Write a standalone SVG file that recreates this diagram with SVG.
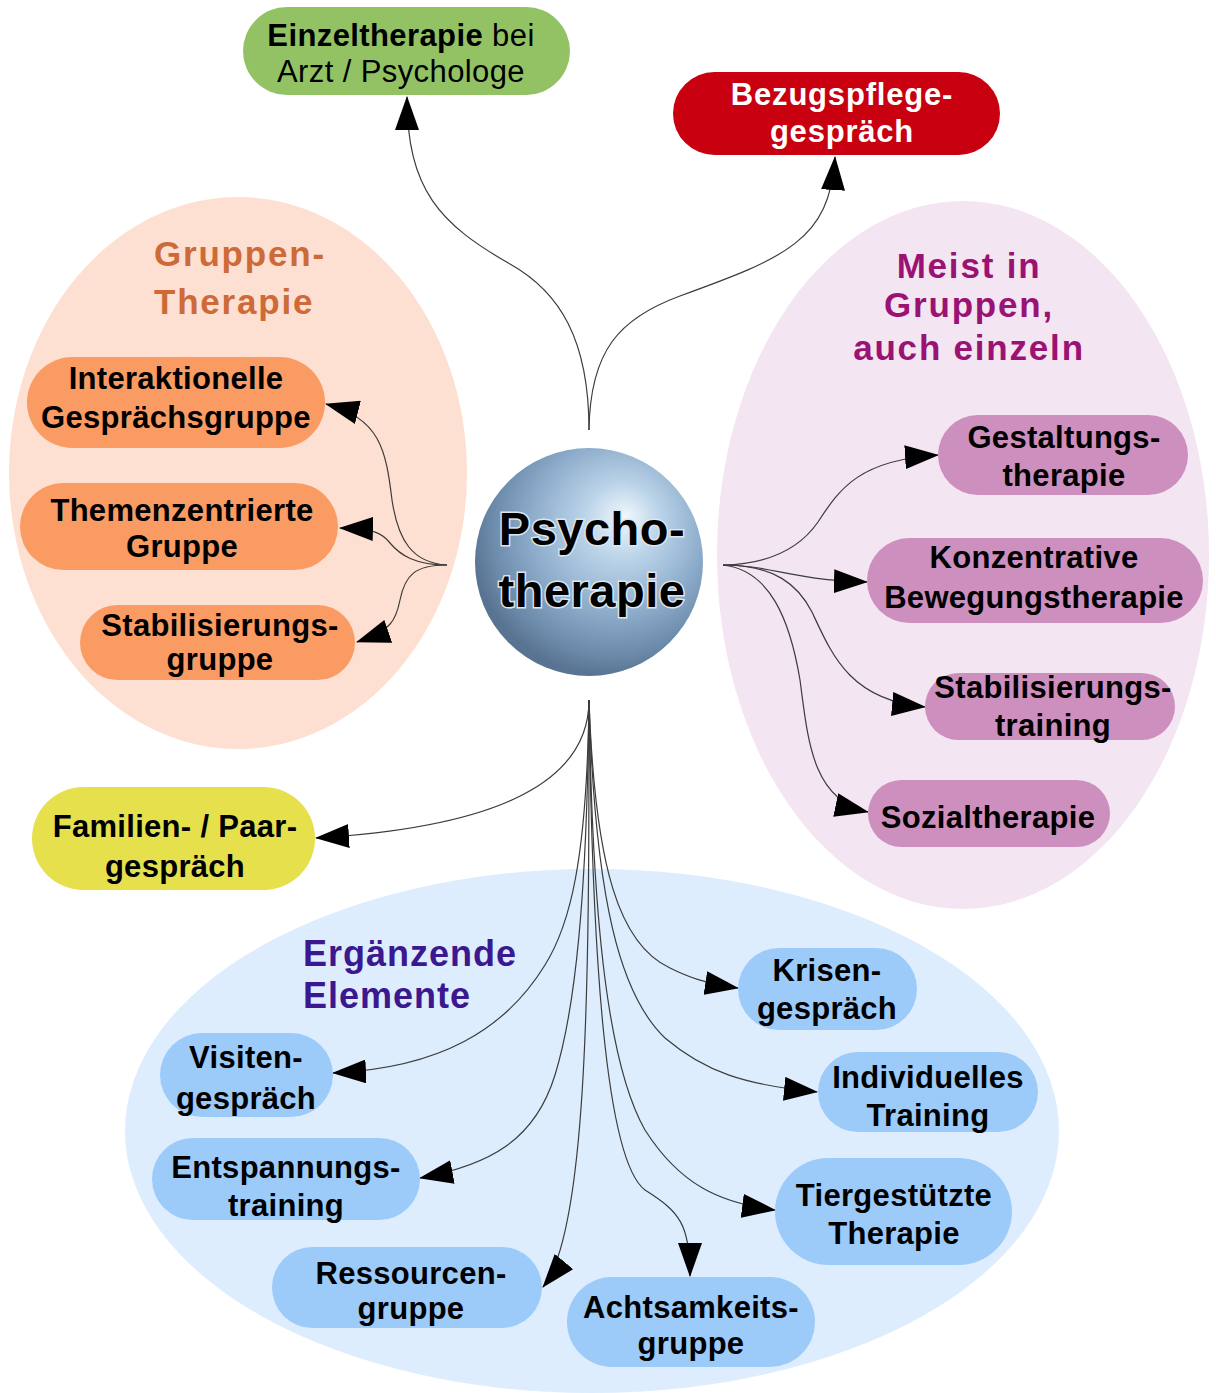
<svg xmlns="http://www.w3.org/2000/svg" width="1216" height="1393" viewBox="0 0 1216 1393">
<defs>
<style>
.bg{stroke:none}
.conn{fill:none;stroke:#3c3c3c;stroke-width:1.2;marker-end:url(#arr)}
.pill{stroke:none}
.t{font-family:"Liberation Sans",Arial,sans-serif;font-weight:bold;font-size:31px;letter-spacing:0.3px;text-anchor:middle;fill:#000}
.title{font-family:"Liberation Sans",Arial,sans-serif;font-weight:bold;font-size:35px;letter-spacing:1.8px}
.orange{fill:#fa9b63}
.purple{fill:#cd8fbe}
.blue{fill:#9ccbfa}
</style>
<marker id="arr" markerUnits="userSpaceOnUse" markerWidth="34" markerHeight="24" viewBox="0 0 34 24" refX="33" refY="12" orient="auto">
<path d="M0,0 L34,12 L0,24 Z" fill="#000"/>
</marker>
<radialGradient id="sph" cx="0.6" cy="0.38" r="0.62" fx="0.66" fy="0.3">
<stop offset="0" stop-color="#f0f8fc"/>
<stop offset="0.28" stop-color="#b9d2e8"/>
<stop offset="0.62" stop-color="#8cabca"/>
<stop offset="0.88" stop-color="#6a88a7"/>
<stop offset="1" stop-color="#587492"/>
</radialGradient>
</defs>
<rect width="1216" height="1393" fill="#fff"/>
<g id="groups">
<ellipse id="bg-gruppen" class="bg" cx="238" cy="473" rx="229" ry="276" fill="#fde0d1"/>
<ellipse id="bg-meist" class="bg" cx="963" cy="555" rx="246" ry="354" fill="#f3e5f1"/>
<ellipse id="bg-ergaenzend" class="bg" cx="592" cy="1131" rx="467" ry="262" fill="#ddedfd"/>
<text class="title" x="154" y="266" fill="#cd6a38">Gruppen-</text>
<text class="title" x="154" y="314" fill="#cd6a38">Therapie</text>
<text class="title" x="969" y="278" fill="#9a1274" text-anchor="middle">Meist in</text>
<text class="title" x="969" y="317" fill="#9a1274" text-anchor="middle">Gruppen,</text>
<text class="title" x="969" y="360" fill="#9a1274" text-anchor="middle">auch einzeln</text>
<text class="title" x="303" y="966" fill="#3b1890" style="font-size:36px;letter-spacing:1px">Ergänzende</text>
<text class="title" x="303" y="1008" fill="#3b1890" style="font-size:36px;letter-spacing:1px">Elemente</text>
</g>
<g id="connectors">
<path class="conn" d="M589,430 C589,340 560,292 510,264 C440,224 407,190 407,97"/>
<path class="conn" d="M589,430 C590,350 620,318 680,296 C785,258 830,240 835,157"/>
<path class="conn" d="M447,565 C412,563 398,540 392,500 C386,450 380,418 326,404"/>
<path class="conn" d="M447,565 C415,565 400,555 390,543 C382,533 375,529 340,528"/>
<path class="conn" d="M447,565 C415,565 405,575 400,600 C396,620 392,630 357,642"/>
<path class="conn" d="M723,565 C770,564 800,548 818,522 C840,488 860,460 938,455"/>
<path class="conn" d="M723,565 C770,565 790,580 867,582"/>
<path class="conn" d="M723,565 C775,565 798,585 812,612 C832,655 850,700 925,707"/>
<path class="conn" d="M723,565 C770,570 790,620 800,680 C808,740 812,800 868,812"/>
<path class="conn" d="M589,700 C589,790 480,828 316,838"/>
<path class="conn" d="M589,700 C587,860 570,925 545,965 C505,1030 440,1068 333,1073"/>
<path class="conn" d="M589,700 C587,900 575,1010 555,1075 C535,1140 490,1165 420,1178"/>
<path class="conn" d="M589,700 C589,950 590,1230 543,1287"/>
<path class="conn" d="M589,700 C592,950 605,1160 645,1190 C680,1212 690,1225 690,1276"/>
<path class="conn" d="M589,700 C592,900 605,1060 645,1130 C680,1185 720,1203 775,1210"/>
<path class="conn" d="M589,700 C595,900 620,995 665,1038 C705,1072 745,1085 817,1092"/>
<path class="conn" d="M589,700 C595,870 620,945 670,968 C690,978 705,983 738,988"/>
</g>
<g id="node-psychotherapie">
<circle cx="589" cy="562" r="114" fill="url(#sph)"/>
<text class="t" x="592" y="545" style="font-size:47px;letter-spacing:0.5px;stroke:#dbe6ef;stroke-width:3;paint-order:stroke" fill="#111">Psycho-</text>
<text class="t" x="592" y="607" style="font-size:47px;letter-spacing:0.5px;stroke:#dbe6ef;stroke-width:3;paint-order:stroke" fill="#111">therapie</text>
</g>
<g id="node-einzeltherapie">
<rect class="pill" x="243" y="7" width="327" height="88" rx="44" fill="#93c264"/>
<text class="t" x="401" y="46" style="letter-spacing:0.4px">Einzeltherapie<tspan font-weight="normal"> bei</tspan></text>
<text class="t" x="401" y="82" style="letter-spacing:0.4px;font-weight:normal">Arzt / Psychologe</text>
</g>
<g id="node-bezugspflege">
<rect class="pill" x="673" y="72" width="327" height="83" rx="41.5" fill="#c8000f"/>
<text class="t" x="842" y="105" style="fill:#fff;letter-spacing:0.8px">Bezugspflege-</text>
<text class="t" x="842" y="142" style="fill:#fff;letter-spacing:0.8px">gespräch</text>
</g>
<g id="node-interaktionelle">
<rect class="pill orange" x="27" y="357" width="298" height="91" rx="45.5"/>
<text class="t" x="176" y="389">Interaktionelle</text>
<text class="t" x="176" y="428">Gesprächsgruppe</text>
</g>
<g id="node-themenzentrierte">
<rect class="pill orange" x="20" y="483" width="318" height="87" rx="43.5"/>
<text class="t" x="182" y="521">Themenzentrierte</text>
<text class="t" x="182" y="557">Gruppe</text>
</g>
<g id="node-stabilisierungsgruppe">
<rect class="pill orange" x="80" y="605" width="275" height="75" rx="37.5"/>
<text class="t" x="220" y="636">Stabilisierungs-</text>
<text class="t" x="220" y="670">gruppe</text>
</g>
<g id="node-gestaltung">
<rect class="pill purple" x="938" y="415" width="250" height="80" rx="40"/>
<text class="t" x="1064" y="448">Gestaltungs-</text>
<text class="t" x="1064" y="486">therapie</text>
</g>
<g id="node-konzentrative">
<rect class="pill purple" x="867" y="538" width="336" height="85" rx="42.5"/>
<text class="t" x="1034" y="568">Konzentrative</text>
<text class="t" x="1034" y="608">Bewegungstherapie</text>
</g>
<g id="node-stabilisierungstraining">
<rect class="pill purple" x="925" y="673" width="250" height="67" rx="33.5"/>
<text class="t" x="1053" y="698">Stabilisierungs-</text>
<text class="t" x="1053" y="736">training</text>
</g>
<g id="node-sozial">
<rect class="pill purple" x="868" y="780" width="242" height="67" rx="33.5"/>
<text class="t" x="988" y="828">Sozialtherapie</text>
</g>
<g id="node-familien">
<rect class="pill" x="32" y="787" width="283" height="103" rx="51.5" fill="#e6e04d"/>
<text class="t" x="175" y="837">Familien- / Paar-</text>
<text class="t" x="175" y="877">gespräch</text>
</g>
<g id="node-visiten">
<rect class="pill blue" x="160" y="1033" width="173" height="84" rx="42"/>
<text class="t" x="246" y="1068">Visiten-</text>
<text class="t" x="246" y="1109">gespräch</text>
</g>
<g id="node-entspannung">
<rect class="pill blue" x="152" y="1138" width="268" height="82" rx="41"/>
<text class="t" x="286" y="1178">Entspannungs-</text>
<text class="t" x="286" y="1216">training</text>
</g>
<g id="node-ressourcen">
<rect class="pill blue" x="272" y="1247" width="270" height="81" rx="40.5"/>
<text class="t" x="411" y="1284">Ressourcen-</text>
<text class="t" x="411" y="1319">gruppe</text>
</g>
<g id="node-achtsamkeit">
<rect class="pill blue" x="567" y="1277" width="248" height="90" rx="45"/>
<text class="t" x="691" y="1318">Achtsamkeits-</text>
<text class="t" x="691" y="1354">gruppe</text>
</g>
<g id="node-krisen">
<rect class="pill blue" x="738" y="948" width="179" height="82" rx="41"/>
<text class="t" x="827" y="981">Krisen-</text>
<text class="t" x="827" y="1019">gespräch</text>
</g>
<g id="node-individuelles">
<rect class="pill blue" x="818" y="1052" width="220" height="80" rx="40"/>
<text class="t" x="928" y="1088">Individuelles</text>
<text class="t" x="928" y="1126">Training</text>
</g>
<g id="node-tiergestuetzt">
<rect class="pill blue" x="775" y="1158" width="237" height="107" rx="53.5"/>
<text class="t" x="894" y="1206">Tiergestützte</text>
<text class="t" x="894" y="1244">Therapie</text>
</g>
</svg>
